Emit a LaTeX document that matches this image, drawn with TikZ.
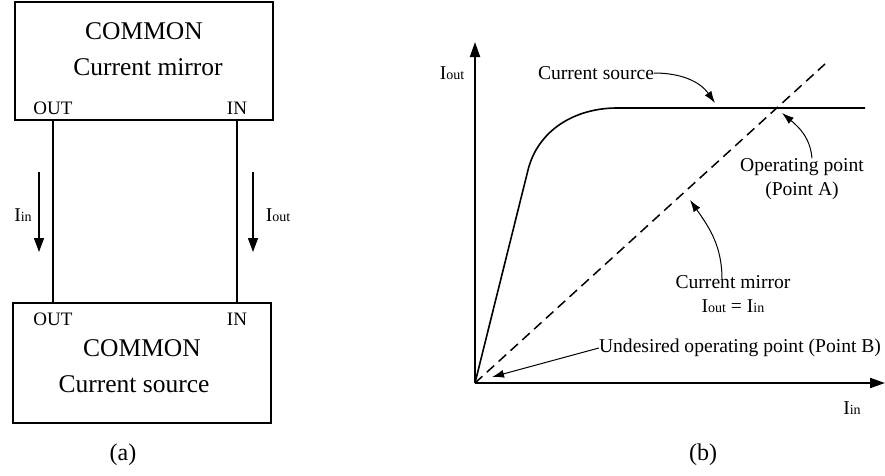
\documentclass[tikz,border=0pt]{standalone}
\usepackage{fontspec}
\setmainfont{Liberation Serif}
\usetikzlibrary{arrows.meta, positioning, calc}
\newcommand{\smallsub}[1]{{\fontsize{14}{14}\selectfont #1}}
\tikzset{
    blockbox/.style={draw, rectangle, line width=1.4pt, inner sep=0pt},
    blocktext/.style={font=\fontsize{25.5}{28}\selectfont, inner sep=0pt},
    porttext/.style={font=\fontsize{19}{22}\selectfont, inner sep=0pt},
    labeltext/.style={font=\fontsize{19.6}{24}\selectfont, inner sep=0pt, align=center},
    captext/.style={font=\fontsize{24}{28}\selectfont, inner sep=0pt},
    wire/.style={line width=1.3pt},
    currarrow/.style={-{Triangle[length=14pt, width=10pt]}, line width=1.3pt},
    axisarrow/.style={-{Triangle[length=15pt, width=10pt]}, line width=2pt},
    curveline/.style={line width=1.6pt},
    mirrorline/.style={line width=1.5pt, dash pattern=on 10pt off 6pt},
    notearrow/.style={-{Latex[length=12pt, width=8pt]}, line width=1pt},
}
\begin{document}
\begin{tikzpicture}[x=1pt, y=-1pt]
    \useasboundingbox (0,0) rectangle (885,475);

    % (a) Current mirror block
    \node[blockbox, minimum width=258pt, minimum height=118pt] (mirror) at (144,61) {};
    \node[blocktext] (mirrorname) at (144,31) {COMMON};
    \node[blocktext] (mirrortype) at (148,67) {Current mirror};
    \node[porttext] (mirrorout) at (53,108) {OUT};
    \node[porttext] (mirrorin) at (237,108) {IN};

    % (a) Current source block
    \node[blockbox, minimum width=258pt, minimum height=120pt] (source) at (142,363) {};
    \node[porttext] (sourceout) at (53,319) {OUT};
    \node[porttext] (sourcein) at (237,319) {IN};
    \node[blocktext] (sourcename) at (142,348) {COMMON};
    \node[blocktext] (sourcetype) at (134,384) {Current source};

    % Wires
    \draw[wire] (mirrorout |- mirror.south) -- (sourceout |- source.north);
    \draw[wire] (mirrorin |- mirror.south) -- (sourcein |- source.north);

    % Currents
    \coordinate (iinstart) at (39,172);
    \coordinate (iinend) at (39,252);
    \coordinate (ioutstart) at (253,172);
    \coordinate (ioutend) at (253,252);
    \draw[currarrow] (iinstart) -- (iinend);
    \draw[currarrow] (ioutstart) -- (ioutend);
    \node[labeltext] (iinlabel) at (23,215) {I\smallsub{in}};
    \node[labeltext] (ioutlabel) at (278,215) {I\smallsub{out}};

    % (b) Axes
    \coordinate (origin) at (475,383);
    \coordinate (xend) at (885,383);
    \coordinate (yend) at (475,42);
    \draw[axisarrow] (origin) -- (xend);
    \draw[axisarrow] (origin) -- (yend);
    \node[labeltext] (yname) at (452,73) {I\smallsub{out}};
    \node[labeltext] (xname) at (852,408) {I\smallsub{in}};

    % Characteristics
    \coordinate (knee) at (528,170);
    \coordinate (flat) at (617,108);
    \coordinate (flatend) at (865,108);
    \coordinate (mirrorend) at (825,64);
    \draw[curveline] (origin) -- (knee) .. controls (538,130) and (575,108) .. (flat) -- (flatend);
    \draw[mirrorline] (origin) -- (mirrorend);

    % Annotations
    \node[labeltext] (csource) at (596,73) {Current source};
    \node[labeltext] (oppoint) at (802,179) {Operating point\\(Point A)};
    \node[labeltext] (cmirror) at (733,294) {Current mirror\\I\smallsub{out} = I\smallsub{in}};
    \node[labeltext] (undesired) at (740,348) {Undesired operating point (Point B)};
    \coordinate (csourcetip) at (715,103);
    \coordinate (optip) at (782,113);
    \coordinate (cmirrortip) at (690,200);
    \coordinate (undesiredtip) at (492,377);
    \draw[notearrow] (csource.east) to[out=0, in=125] (csourcetip);
    \draw[notearrow] ([xshift=10pt]oppoint.north) to[out=95, in=-40] (optip);
    \draw[notearrow] ([yshift=-4pt]cmirror.north -| 722,0) to[out=90, in=-55] (cmirrortip);
    \draw[notearrow] (undesired.west) -- (undesiredtip);

    % Captions
    \node[captext] (capa) at (123,455) {(a)};
    \node[captext] (capb) at (703,455) {(b)};
\end{tikzpicture}
\end{document}
